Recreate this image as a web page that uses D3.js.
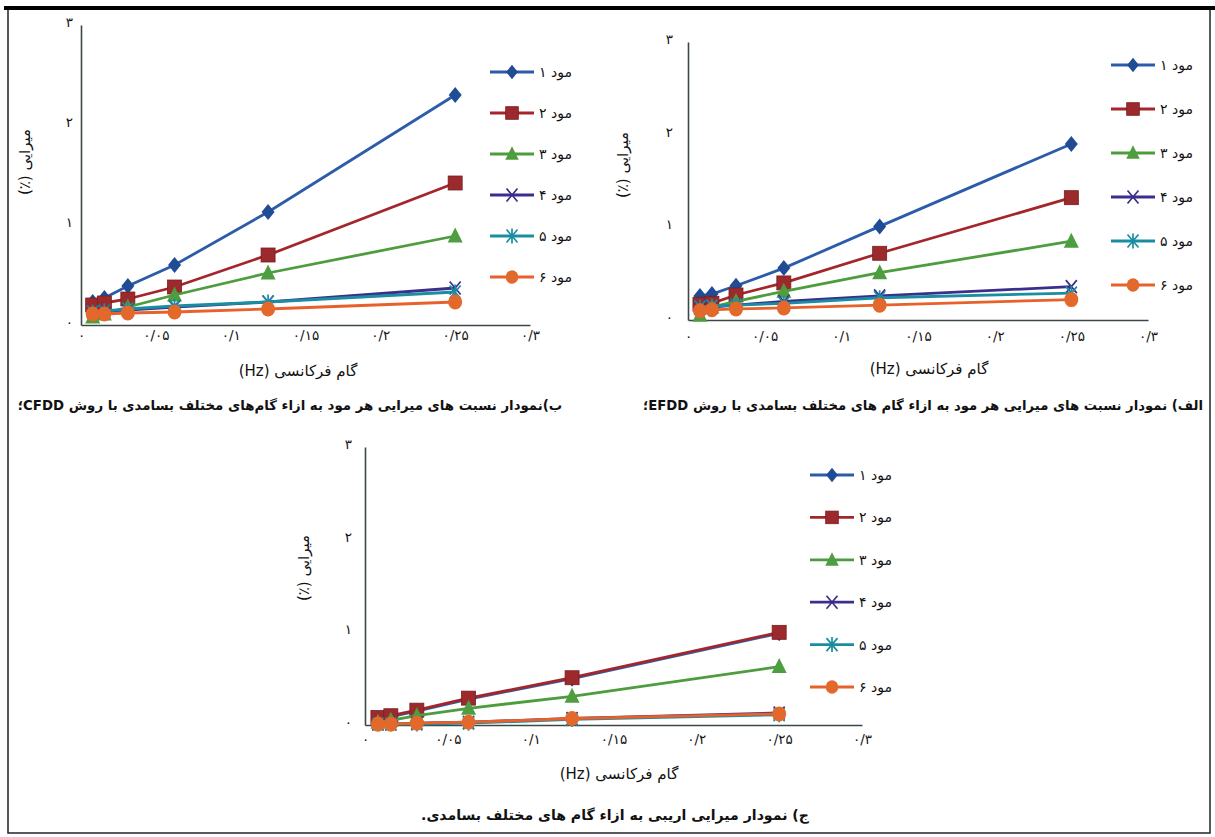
<!DOCTYPE html>
<html>
<head>
<meta charset="utf-8">
<style>
  body { margin: 0; background: #fff; }
  svg text { font-family: "DejaVu Sans", sans-serif; fill: #111; }
  svg .axis path.domain { stroke: #3d4747; stroke-width: 1.6px; }
  svg .axis .tick line { display: none; }
  svg .axis .tick text { font-size: 13.5px; fill: #111; font-family: "DejaVu Sans", sans-serif; }
  svg .series { fill: none; stroke-width: 2.8px; }
</style>
</head>
<body>
<script src="https://cdn.jsdelivr.net/npm/d3@7"></script>
<script>
// frequency steps (Hz) and labels
var freqSteps = [0.0078, 0.0156, 0.0313, 0.0625, 0.125, 0.25];
var modeNames = ["مود ۱", "مود ۲", "مود ۳", "مود ۴", "مود ۵", "مود ۶"];
var xTicks = [0, 0.05, 0.1, 0.15, 0.2, 0.25, 0.3];
var xTickLabels = ["۰", "۰/۰۵", "۰/۱", "۰/۱۵", "۰/۲", "۰/۲۵", "۰/۳"];
var yTicks = [0, 1, 2, 3];
var yTickLabels = ["۰", "۱", "۲", "۳"];

// damping (%) - one row per mode
var cfddDamping = [
  [0.23, 0.27, 0.39, 0.60, 1.13, 2.30],
  [0.20, 0.22, 0.26, 0.38, 0.70, 1.42],
  [0.08, 0.11, 0.18, 0.30, 0.52, 0.89],
  [0.13, 0.14, 0.15, 0.18, 0.23, 0.37],
  [0.13, 0.14, 0.16, 0.19, 0.23, 0.33],
  [0.11, 0.11, 0.12, 0.13, 0.16, 0.23]
];
var efddDamping = [
  [0.26, 0.28, 0.37, 0.56, 1.01, 1.90],
  [0.17, 0.18, 0.27, 0.40, 0.72, 1.32],
  [0.05, 0.14, 0.20, 0.31, 0.51, 0.85],
  [0.13, 0.14, 0.16, 0.20, 0.26, 0.36],
  [0.14, 0.15, 0.16, 0.18, 0.24, 0.29],
  [0.10, 0.11, 0.12, 0.13, 0.16, 0.22]
];
var biasDamping = [
  [0.07, 0.09, 0.15, 0.28, 0.50, 0.99],
  [0.08, 0.10, 0.16, 0.29, 0.51, 1.00],
  [0.03, 0.05, 0.10, 0.18, 0.31, 0.63],
  [0.01, 0.01, 0.02, 0.03, 0.07, 0.13],
  [0.01, 0.01, 0.01, 0.02, 0.06, 0.11],
  [0.01, 0.01, 0.02, 0.03, 0.07, 0.12]
];

var yTitle = "میرایی (٪)";
var xTitle = "گام فرکانسی (Hz)";
var captionCfdd = "ب)نمودار نسبت های میرایی هر مود به ازاء گام‌های مختلف بسامدی با روش CFDD؛";
var captionEfdd = "الف) نمودار نسبت های میرایی هر مود به ازاء گام های مختلف بسامدی با روش EFDD؛";
var captionBias = "ج) نمودار میرایی اریبی به ازاء گام های مختلف بسامدی.";

var lineColors   = ["#2c5ca9", "#a3262b", "#4d9c3d", "#3a2f8a", "#1a8da2", "#e8612b"];
var markerColors = ["#1f4c94", "#9c2a2d", "#4f9d41", "#3a2f8a", "#1a8da2", "#e2692b"];

var svg = d3.select("body").append("svg")
    .attr("width", 1215)
    .attr("height", 837);

// page frame
svg.append("rect")
    .attr("x", 8).attr("y", 8)
    .attr("width", 1202).attr("height", 825)
    .style("fill", "none").style("stroke", "#222").style("stroke-width", 1.5);
svg.append("line")
    .attr("x1", 4).attr("x2", 1215).attr("y1", 8).attr("y2", 8)
    .style("stroke", "#000").style("stroke-width", 4);

// marker shapes, centred on 0,0
function drawMarker(g, type, color, k) {
  k = k || 1;
  if (type === 0) {
    g.append("path").attr("d", "M0," + (-8*k) + "L" + (6.5*k) + ",0L0," + (8*k) + "L" + (-6.5*k) + ",0Z")
      .style("fill", color);
  } else if (type === 1) {
    g.append("rect").attr("x", -7*k).attr("y", -7*k).attr("width", 14*k).attr("height", 14*k)
      .style("fill", color).style("stroke", "#7a1c20").style("stroke-width", 0.8);
  } else if (type === 2) {
    g.append("path").attr("d", "M0," + (-8.5*k) + "L" + (7.5*k) + "," + (6.5*k) + "L" + (-7.5*k) + "," + (6.5*k) + "Z")
      .style("fill", color);
  } else if (type === 3) {
    g.append("path").attr("d", "M-5.5,-6.5L5.5,6.5M-5.5,6.5L5.5,-6.5")
      .style("stroke", color).style("stroke-width", 1.7).style("fill", "none");
  } else if (type === 4) {
    g.append("path").attr("d", "M-5.5,-6.5L5.5,6.5M-5.5,6.5L5.5,-6.5M0,-7.5L0,7.5")
      .style("stroke", color).style("stroke-width", 1.7).style("fill", "none");
  } else {
    g.append("ellipse").attr("rx", 7*k).attr("ry", 7.5*k)
      .style("fill", color);
  }
}

// set a text's font size so that it spans the wanted width
function fitWidth(sel, w, base) {
  var len = sel.node().getComputedTextLength();
  if (len > 0) sel.style("font-size", (base * w / len).toFixed(2) + "px");
}

function drawPanel(p) {
  var x = d3.scaleLinear().domain([0, 0.3]).range([p.x0, p.x1]);
  var y = d3.scaleLinear().domain([0, 3]).range([p.y0, p.y3]);

  svg.append("g")
      .attr("class", "axis")
      .attr("transform", "translate(0," + p.y0 + ")")
      .call(d3.axisBottom(x).tickValues(xTicks)
        .tickFormat(function (d, i) { return xTickLabels[i]; })
        .tickSize(0).tickPadding(p.xPad));

  svg.append("g")
      .attr("class", "axis")
      .attr("transform", "translate(" + p.x0 + ",0)")
      .call(d3.axisLeft(y).tickValues(yTicks)
        .tickFormat(function (d, i) { return yTickLabels[i]; })
        .tickSize(0).tickPadding(p.yPad))
    .selectAll(".tick text").attr("dy", "0.1em");

  var line = d3.line()
      .x(function (d, i) { return x(freqSteps[i]); })
      .y(function (d) { return y(d); });

  p.values.forEach(function (row, m) {
    svg.append("path")
        .attr("class", "series")
        .attr("d", line(row))
        .style("stroke", lineColors[m]);
    row.forEach(function (v, i) {
      var g = svg.append("g")
          .attr("transform", "translate(" + x(freqSteps[i]) + "," + y(v) + ")");
      drawMarker(g, m, markerColors[m]);
    });
  });

  // legend
  modeNames.forEach(function (name, m) {
    var ly = p.legY + m * p.legStep;
    svg.append("line")
        .attr("x1", p.legX).attr("x2", p.legX + 44)
        .attr("y1", ly).attr("y2", ly)
        .style("stroke", lineColors[m]).style("stroke-width", 2.8);
    var g = svg.append("g").attr("transform", "translate(" + (p.legX + 22) + "," + ly + ")");
    drawMarker(g, m, markerColors[m], 0.9);
    svg.append("text")
        .attr("x", p.legX + 49).attr("y", ly)
        .attr("dy", "0.35em")
        .style("font-size", "14px")
        .text(name);
  });

  svg.append("text")
      .attr("transform", "translate(" + p.yTitleX + "," + p.yTitleY + ") rotate(-90)")
      .attr("direction", "rtl")
      .style("text-anchor", "middle")
      .style("font-size", "15px")
      .text(yTitle);

  svg.append("text")
      .attr("x", p.xTitleX).attr("y", p.xTitleY)
      .attr("direction", "rtl")
      .style("text-anchor", "middle")
      .style("font-size", "15px")
      .text(xTitle);

  var cap = svg.append("text")
      .attr("x", p.capX).attr("y", p.capY)
      .attr("direction", "rtl")
      .style("text-anchor", "middle")
      .style("font-size", "14px")
      .style("font-weight", "bold")
      .text(p.caption);
  fitWidth(cap, p.capW, 14);
}

drawPanel({ values: cfddDamping, x0: 81, x1: 530, y0: 325, y3: 25, xPad: 5, yPad: 8,
  legX: 490, legY: 72, legStep: 41, yTitleX: 30, yTitleY: 162, xTitleX: 298, xTitleY: 376,
  caption: captionCfdd, capX: 290, capY: 410, capW: 545 });

drawPanel({ values: efddDamping, x0: 688, x1: 1148, y0: 320, y3: 42, xPad: 11, yPad: 15,
  legX: 1111, legY: 65, legStep: 44, yTitleX: 628, yTitleY: 165, xTitleX: 929, xTitleY: 374,
  caption: captionEfdd, capX: 923, capY: 410, capW: 560 });

drawPanel({ values: biasDamping, x0: 365, x1: 862, y0: 725, y3: 447, xPad: 9, yPad: 13,
  legX: 810, legY: 475, legStep: 42.4, yTitleX: 309, yTitleY: 568, xTitleX: 619, xTitleY: 779,
  caption: captionBias, capX: 615, capY: 820, capW: 388 });
</script>
</body>
</html>
